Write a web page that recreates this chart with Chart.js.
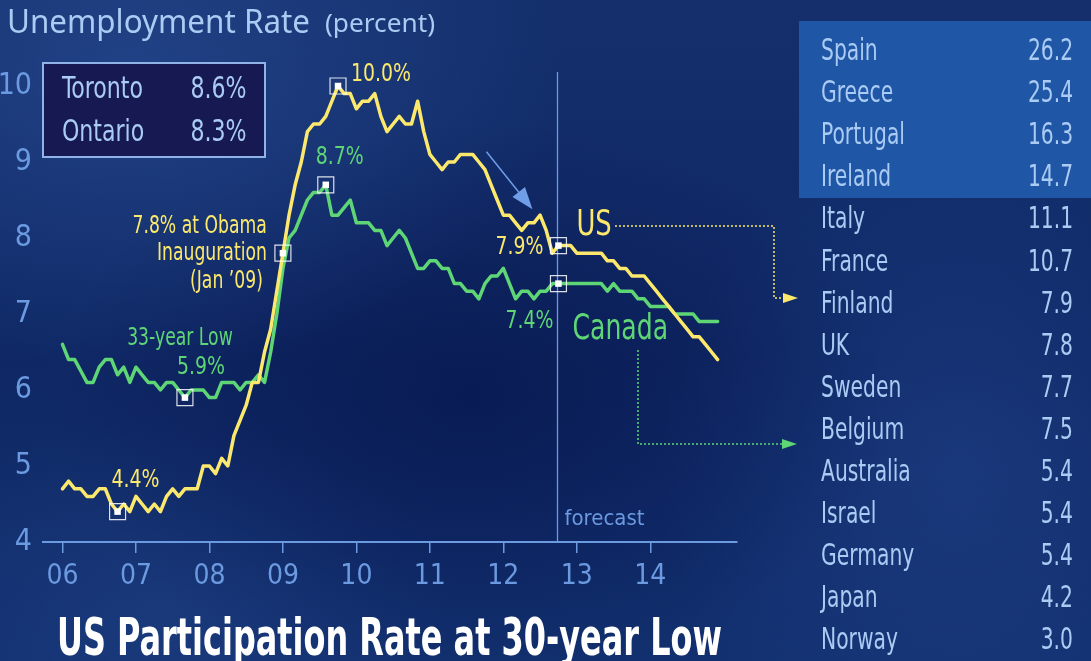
<!DOCTYPE html>
<html>
<head>
<meta charset="utf-8">
<script src="https://cdn.jsdelivr.net/npm/chart.js@4.4.1/dist/chart.umd.min.js"></script>
<style>
  html, body { margin: 0; padding: 0; background: #10296a; }
  #stage {
    position: relative; width: 1091px; height: 661px; overflow: hidden;
    background:
      radial-gradient(ellipse 430px 300px at 130px 70px, rgba(44,82,156,0.55), rgba(44,82,156,0) 100%),
      radial-gradient(ellipse 420px 280px at 470px 400px, rgba(4,16,70,0.55), rgba(4,16,70,0) 100%),
      radial-gradient(ellipse 300px 360px at 960px 470px, rgba(36,72,146,0.45), rgba(36,72,146,0) 100%),
      radial-gradient(ellipse 300px 200px at 160px 620px, rgba(36,70,140,0.45), rgba(36,70,140,0) 100%),
      linear-gradient(180deg, #142f6c 0%, #0f2865 55%, #12306f 100%);
  }
  #hilite { position: absolute; left: 799px; top: 21px; width: 292px; height: 177px; background: #1f56a6; }
  #citybox { position: absolute; left: 42px; top: 62px; width: 220px; height: 92px;
    background: #171a52; border: 2px solid #8fb3e6; }
  canvas { position: absolute; left: 0; top: 0; }
  .txt { position: absolute; white-space: nowrap; }
</style>
</head>
<body>
<div id="stage">
  <div id="hilite"></div>
  <div id="citybox"></div>
  <canvas id="chart" width="1091" height="661"></canvas>
</div>
<script>
// monthly unemployment rate, Jan 2006 .. Oct 2012 (actual) then Nov 2012 .. Dec 2014 (forecast)
const usActual = [
  4.7, 4.8, 4.7, 4.7, 4.6, 4.6, 4.7, 4.7, 4.5, 4.4, 4.5, 4.4,
  4.6, 4.5, 4.4, 4.5, 4.4, 4.6, 4.7, 4.6, 4.7, 4.7, 4.7, 5.0,
  5.0, 4.9, 5.1, 5.0, 5.4, 5.6, 5.8, 6.1, 6.1, 6.5, 6.8, 7.3,
  7.8, 8.3, 8.7, 9.0, 9.4, 9.5, 9.5, 9.6, 9.8, 10.0, 9.9, 9.9,
  9.7, 9.8, 9.8, 9.9, 9.6, 9.4, 9.5, 9.6, 9.5, 9.5, 9.8, 9.4,
  9.1, 9.0, 8.9, 9.0, 9.0, 9.1, 9.1, 9.1, 9.0, 8.9, 8.7, 8.5,
  8.3, 8.3, 8.2, 8.1, 8.2, 8.2, 8.3, 8.1, 7.8, 7.9
];
const usForecast = [
  7.9, 7.9, 7.8, 7.8, 7.8, 7.8, 7.8, 7.7, 7.7, 7.6, 7.6, 7.5, 7.5,
  7.5, 7.4, 7.3, 7.2, 7.1, 7.0, 6.9, 6.8, 6.7, 6.7, 6.6, 6.5, 6.4
];
const caActual = [
  6.6, 6.4, 6.4, 6.25, 6.1, 6.1, 6.3, 6.4, 6.4, 6.2, 6.3, 6.1,
  6.3, 6.2, 6.1, 6.1, 6.0, 6.1, 6.1, 6.0, 5.9, 6.0, 6.0, 6.0,
  5.9, 5.9, 6.1, 6.1, 6.1, 6.0, 6.1, 6.1, 6.2, 6.1, 6.5, 7.0,
  7.6, 8.0, 8.1, 8.3, 8.5, 8.6, 8.6, 8.7, 8.3, 8.3, 8.4, 8.5,
  8.2, 8.2, 8.2, 8.1, 8.1, 7.9, 8.0, 8.1, 8.0, 7.8, 7.6, 7.6,
  7.7, 7.7, 7.6, 7.6, 7.4, 7.4, 7.3, 7.3, 7.2, 7.4, 7.5, 7.5,
  7.6, 7.4, 7.2, 7.3, 7.3, 7.2, 7.3, 7.3, 7.4, 7.4
];
const caForecast = [
  7.4, 7.4, 7.4, 7.4, 7.4, 7.4, 7.4, 7.3, 7.4, 7.3, 7.3, 7.3, 7.2,
  7.2, 7.1, 7.1, 7.1, 7.1, 7.0, 7.0, 7.0, 7.0, 6.9, 6.9, 6.9, 6.9
];
const firstYear = 6; // Jan 2006 on a two-digit year axis
const xTickValues = [6, 7, 8, 9, 10, 11, 12, 13, 14];
const xTickLabels = ['06', '07', '08', '09', '10', '11', '12', '13', '14'];
const yTickValues = [4, 5, 6, 7, 8, 9, 10];
const yTickLabels = ['4', '5', '6', '7', '8', '9', '10'];
const usMarkers = [9, 36, 45, 81];
const caMarkers = [20, 43, 81];
const cities = ['Toronto', 'Ontario'];
const cityRates = ['8.6%', '8.3%'];
const countries = ['Spain', 'Greece', 'Portugal', 'Ireland', 'Italy', 'France', 'Finland', 'UK',
  'Sweden', 'Belgium', 'Australia', 'Israel', 'Germany', 'Japan', 'Norway'];
const countryRates = ['26.2', '25.4', '16.3', '14.7', '11.1', '10.7', '7.9', '7.8',
  '7.7', '7.5', '5.4', '5.4', '5.4', '4.2', '3.0'];

const YELLOW = '#fbe86c';
const GREEN = '#5fd676';
const AXIS = '#6b9ae0';
const LIGHT = '#aacbf3';
const NARROW = '"Liberation Sans Narrow", "DejaVu Sans Condensed", "Arial Narrow", sans-serif';
const WIDE = '"Noto Sans", "Open Sans", sans-serif';

const us = usActual.concat(usForecast);
const ca = caActual.concat(caForecast);
const months = us.map((_, i) => firstYear + i / 12);
const lastActual = usActual.length - 1;

// text measuring, used to squeeze the fallback fonts to the condensed look
const mctx = document.createElement('canvas').getContext('2d');
function textWidth(text, font) { mctx.font = font; return mctx.measureText(text).width; }
const labelSqueeze = 110 / textWidth('Inauguration', '24px ' + NARROW);
const numSqueeze = 48 / textWidth('7.9%', '25px ' + NARROW);

const stage = document.getElementById('stage');
function place(text, o) {
  const el = document.createElement('div');
  el.className = 'txt';
  el.textContent = text;
  el.style.font = (o.weight || 'normal') + ' ' + o.size + 'px ' + o.family;
  el.style.lineHeight = (o.size * 1.4) + 'px';
  el.style.top = (o.cy - o.size * 0.7) + 'px';
  el.style.color = o.color;
  if (o.left != null) {
    el.style.left = o.left + 'px';
    el.style.transformOrigin = 'left center';
  } else {
    el.style.right = (1091 - o.right) + 'px';
    el.style.transformOrigin = 'right center';
  }
  el.style.transform = 'scaleX(' + (o.sx || 1) + ')';
  stage.appendChild(el);
  return el;
}

// title
place('Unemployment Rate', { left: 7, cy: 21, size: 33, family: WIDE, color: LIGHT,
  sx: 303 / textWidth('Unemployment Rate', '33px ' + WIDE) });
place('(percent)', { left: 325, cy: 22, size: 25, family: WIDE, color: LIGHT,
  sx: 110 / textWidth('(percent)', '25px ' + WIDE) });

// Toronto / Ontario box
const citySq = 81 / textWidth('Toronto', '30px ' + NARROW);
cities.forEach((c, i) => {
  place(c, { left: 62, cy: 88 + 43 * i, size: 30, family: NARROW, color: LIGHT, sx: citySq });
  place(cityRates[i], { right: 247, cy: 88 + 43 * i, size: 30, family: NARROW, color: LIGHT, sx: citySq });
});

// country table
const tableSq = 84 / textWidth('Portugal', '30px ' + NARROW);
countries.forEach((c, i) => {
  place(c, { left: 821, cy: 50 + 42.1 * i, size: 30, family: NARROW, color: LIGHT, sx: tableSq });
  place(countryRates[i], { right: 1073, cy: 50 + 42.1 * i, size: 30, family: NARROW, color: LIGHT, sx: tableSq });
});

// headline
const headText = 'US Participation Rate at 30-year Low';
place(headText, { left: 57, cy: 637, size: 52, weight: 'bold', family: NARROW, color: '#ffffff',
  sx: 665 / textWidth(headText, 'bold 52px ' + NARROW) });

function drawText(ctx, text, x, y, align, size, color, sx) {
  ctx.save();
  ctx.font = size + 'px ' + NARROW;
  ctx.fillStyle = color;
  ctx.textBaseline = 'middle';
  ctx.textAlign = align;
  ctx.translate(x, y);
  ctx.scale(sx || labelSqueeze, 1);
  ctx.fillText(text, 0, 0);
  ctx.restore();
}

// labels hung on data points (offsets in pixels)
const notes = [
  { s: 'us', i: 9, text: '4.4%', dx: 18, dy: -31, align: 'center', num: true },
  { s: 'ca', i: 20, text: '33-year Low', dx: -5, dy: -59, align: 'center' },
  { s: 'ca', i: 20, text: '5.9%', dx: 16, dy: -30, align: 'center', num: true },
  { s: 'us', i: 36, text: '7.8% at Obama', dx: -16, dy: -26, align: 'right' },
  { s: 'us', i: 36, text: 'Inauguration', dx: -16, dy: 1, align: 'right' },
  { s: 'us', i: 36, text: '(Jan \u201909)', dx: -20, dy: 29, align: 'right' },
  { s: 'ca', i: 43, text: '8.7%', dx: 14, dy: -27, align: 'center', num: true },
  { s: 'us', i: 45, text: '10.0%', dx: 13, dy: -12, align: 'left', num: true },
  { s: 'us', i: 81, text: '7.9%', dx: -15, dy: 2, align: 'right', num: true },
  { s: 'ca', i: 81, text: '7.4%', dx: -5, dy: 38, align: 'right', num: true },
  { s: 'us', i: 81, text: 'US', dx: 18, dy: -20, align: 'left', size: 36 },
  { s: 'ca', i: 81, text: 'Canada', dx: 14, dy: 46, align: 'left', size: 35 }
];

function arrowHead(ctx, tx, ty, ang, len, half, color) {
  const bx = tx - Math.cos(ang) * len, by = ty - Math.sin(ang) * len;
  ctx.fillStyle = color;
  ctx.beginPath();
  ctx.moveTo(tx, ty);
  ctx.lineTo(bx - Math.sin(ang) * half, by + Math.cos(ang) * half);
  ctx.lineTo(bx + Math.sin(ang) * half, by - Math.cos(ang) * half);
  ctx.closePath();
  ctx.fill();
}

function dotted(ctx, pts, color) {
  ctx.save();
  ctx.strokeStyle = color;
  ctx.lineWidth = 1.5;
  ctx.setLineDash([2, 2]);
  ctx.beginPath();
  pts.forEach((p, k) => (k ? ctx.lineTo(p[0], p[1]) : ctx.moveTo(p[0], p[1])));
  ctx.stroke();
  ctx.restore();
  const a = pts[pts.length - 1];
  arrowHead(ctx, a[0] + 15, a[1], 0, 15, 5, color);
}

const overlay = {
  id: 'overlay',
  beforeDatasetsDraw(chart) {
    const { ctx, chartArea, scales: { x } } = chart;
    const fx = Math.round(x.getPixelForValue(months[lastActual])) - 0.5;
    ctx.save();
    ctx.strokeStyle = AXIS;
    ctx.lineWidth = 1.3;
    ctx.beginPath();
    ctx.moveTo(fx, chartArea.top + 24);
    ctx.lineTo(fx, chartArea.bottom);
    ctx.stroke();
    drawText(ctx, 'forecast', fx + 7, chartArea.bottom - 23, 'left', 22, AXIS, 1);
    ctx.restore();
  },
  afterDatasetsDraw(chart) {
    const { ctx, scales: { x, y } } = chart;
    const series = { us: us, ca: ca };
    notes.forEach(n => {
      const px = x.getPixelForValue(months[n.i]);
      const py = y.getPixelForValue(series[n.s][n.i]);
      drawText(ctx, n.text, px + n.dx, py + n.dy, n.align, n.num ? 25 : (n.size || 24),
        n.s === 'us' ? YELLOW : GREEN, n.num ? numSqueeze : labelSqueeze);
    });

    // blue arrow pointing at the 2012 drop
    const ax = x.getPixelForValue(months[77]) - 1.5;
    const ay = y.getPixelForValue(us[77]) - 13.5;
    const ang = Math.atan2(57.6, 46);
    ctx.save();
    ctx.strokeStyle = '#6f9de6';
    ctx.lineWidth = 1.5;
    ctx.beginPath();
    ctx.moveTo(ax - 46, ay - 57.6);
    ctx.lineTo(ax - Math.cos(ang) * 18, ay - Math.sin(ang) * 18);
    ctx.stroke();
    arrowHead(ctx, ax, ay, ang, 22, 8, '#6f9de6');
    ctx.restore();

    // dotted leaders to the table
    dotted(ctx, [[615, 226], [774, 226], [774, 298], [783, 298]], YELLOW);
    dotted(ctx, [[638, 350], [638, 444], [782, 444]], GREEN);
  }
};

const markerPts = usMarkers.map(i => ({ x: months[i], y: us[i] }))
  .concat(caMarkers.map(i => ({ x: months[i], y: ca[i] })));

new Chart(document.getElementById('chart'), {
  type: 'line',
  data: {
    datasets: [
      { label: 'US', data: months.map((m, i) => ({ x: m, y: us[i] })), borderColor: YELLOW,
        borderWidth: 3.5, pointRadius: 0, borderJoinStyle: 'round', borderCapStyle: 'round', order: 2 },
      { label: 'Canada', data: months.map((m, i) => ({ x: m, y: ca[i] })), borderColor: GREEN,
        borderWidth: 3.5, pointRadius: 0, borderJoinStyle: 'round', borderCapStyle: 'round', order: 3 },
      { type: 'scatter', data: markerPts, pointStyle: 'rect', pointRadius: 11.3,
        pointBackgroundColor: 'rgba(0,0,0,0)', pointBorderColor: 'rgba(255,255,255,0.85)',
        pointBorderWidth: 1.2, order: 1 },
      { type: 'scatter', data: markerPts, pointStyle: 'rect', pointRadius: 4.6,
        pointBackgroundColor: '#ffffff', pointBorderWidth: 0, order: 0 }
    ]
  },
  options: {
    responsive: false,
    animation: false,
    layout: { padding: { left: 0, top: 48, right: 354, bottom: 0 } },
    plugins: { legend: { display: false }, tooltip: { enabled: false } },
    scales: {
      x: {
        type: 'linear', min: 5.735, max: 15.18, bounds: 'data',
        afterBuildTicks: s => { s.ticks = xTickValues.map(v => ({ value: v })); },
        afterFit: s => { s.height = 119; },
        ticks: { callback: (v, i) => xTickLabels[i], color: AXIS, font: { family: NARROW, size: 28 },
          padding: 7, maxRotation: 0, autoSkip: false },
        grid: { drawOnChartArea: false, drawTicks: true, tickLength: 11, color: AXIS, lineWidth: 1.5 },
        border: { display: true, color: AXIS, width: 2 }
      },
      y: {
        type: 'linear', min: 4, max: 10.5, bounds: 'data',
        afterBuildTicks: s => { s.ticks = yTickValues.map(v => ({ value: v })); },
        afterFit: s => { s.width = 43; },
        ticks: { callback: (v, i) => yTickLabels[i], color: AXIS, font: { family: NARROW, size: 30 },
          padding: 11 },
        grid: { display: false, drawTicks: false },
        border: { display: false }
      }
    }
  },
  plugins: [overlay]
});
</script>
</body>
</html>
